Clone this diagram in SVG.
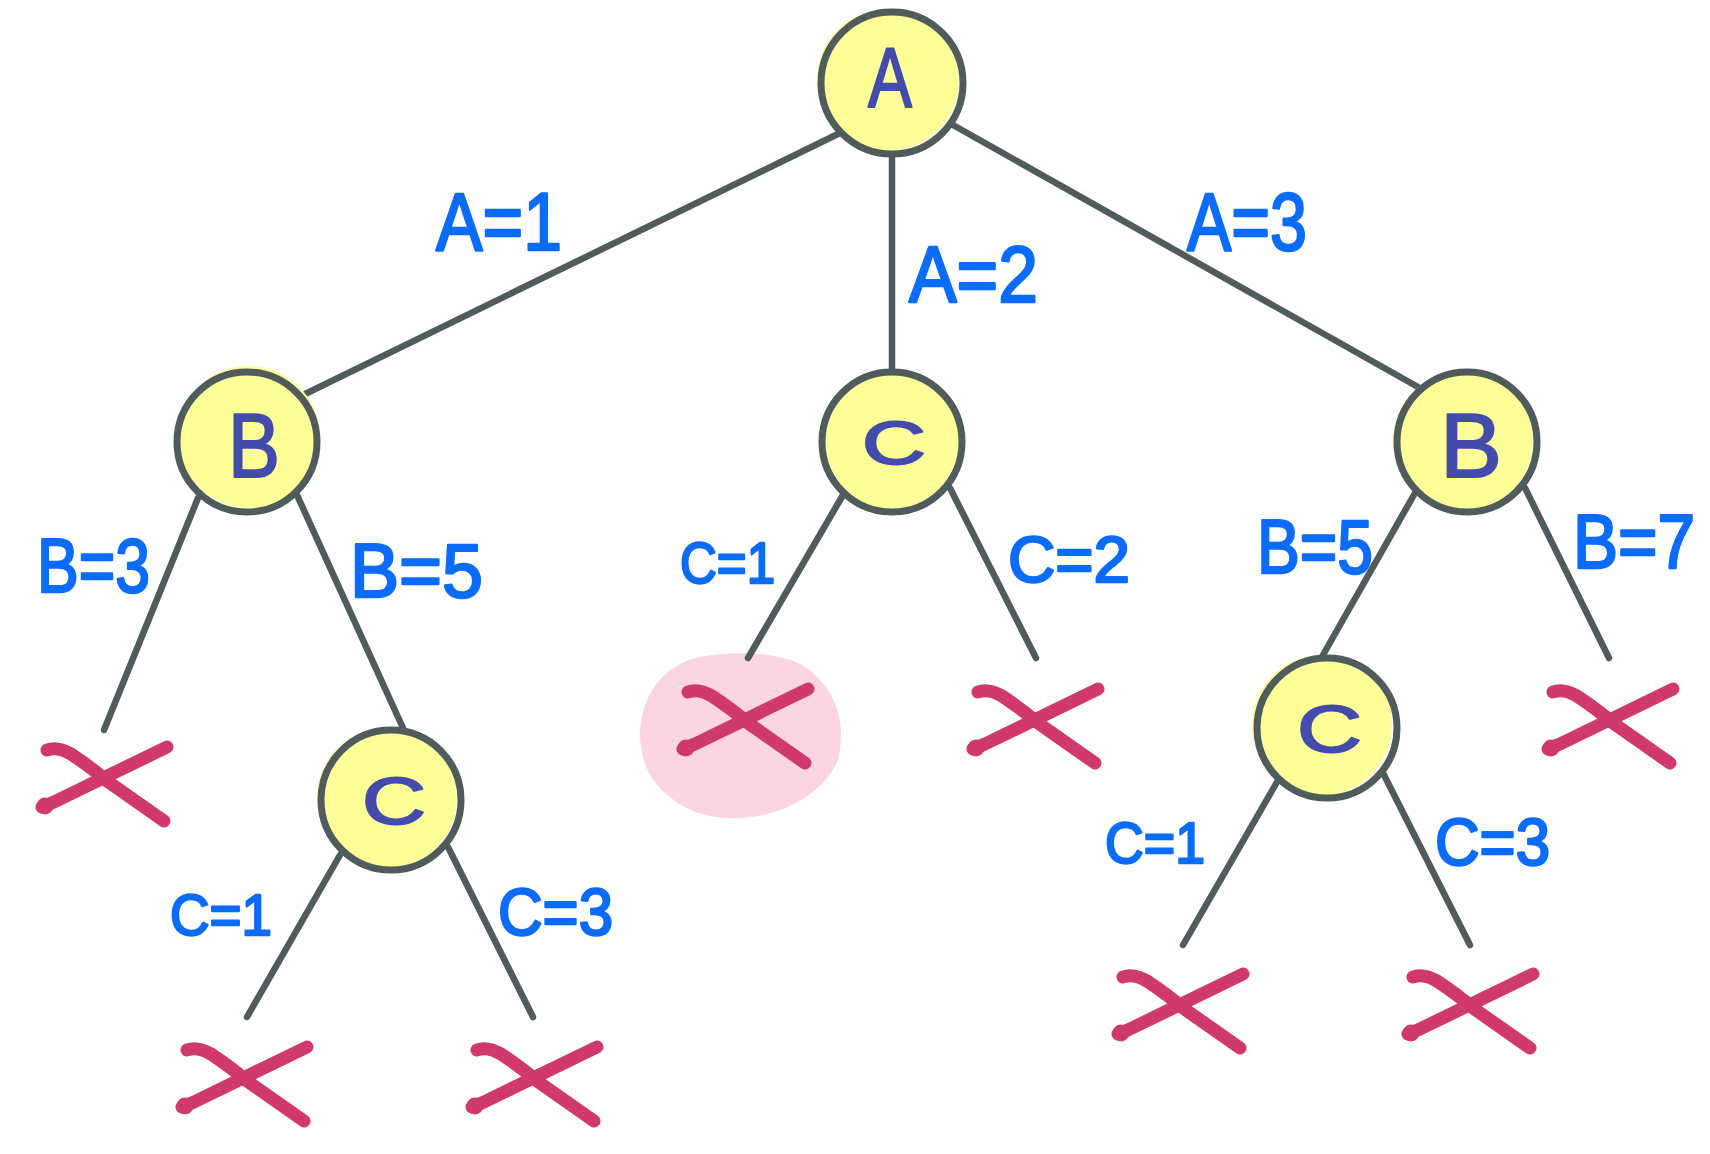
<svg xmlns="http://www.w3.org/2000/svg" xmlns:xlink="http://www.w3.org/1999/xlink" width="1710" height="1154" viewBox="0 0 1710 1154">
<style>
.edge{stroke:#505b5b;stroke-width:6.5;stroke-linecap:round;fill:none}
.hl{fill:#ffff99}
.ring{fill:none;stroke:#505b5b;stroke-width:7}
.nl{font-family:"Liberation Sans",Arial,sans-serif;fill:#434bab;stroke:#434bab;stroke-width:2;stroke-linejoin:round}
.lbl{font-family:"Liberation Sans",Arial,sans-serif;fill:#0b6cfb;stroke:#0b6cfb;stroke-width:2.5;stroke-linejoin:round}
.xs{stroke:#cf396b;stroke-width:13;stroke-linecap:round;stroke-linejoin:round;fill:none}
</style>
<defs>
<g id="cross">
<path class="xs" d="M0,0 Q10,-4 24,4 Q45,18 60,31 L117,71"/>
<path class="xs" d="M-5,57 L7,52 L120,-3"/>
<circle cx="-2" cy="56" r="8.5" fill="#cf396b"/>
</g>
</defs>
<rect width="1710" height="1154" fill="#ffffff"/>
<path id="highlight" d="M700,657 C740,650 790,652 812,672 C838,695 846,725 838,760 C825,790 790,815 740,818 C705,820 680,808 662,790 C648,776 641,760 640,735 C640,700 660,665 700,657 Z" fill="#fbd5e1"/>
<g id="connectors">
<line class="edge" x1="840" y1="133" x2="303" y2="395"/>
<line class="edge" x1="892" y1="156" x2="892" y2="369"/>
<line class="edge" x1="953" y1="125" x2="1418" y2="387"/>
<line class="edge" x1="198" y1="498" x2="104" y2="730"/>
<line class="edge" x1="297" y1="495" x2="403" y2="728"/>
<line class="edge" x1="340" y1="855" x2="247" y2="1017"/>
<line class="edge" x1="448" y1="847" x2="533" y2="1017"/>
<line class="edge" x1="843" y1="495" x2="748" y2="658"/>
<line class="edge" x1="950" y1="488" x2="1036" y2="658"/>
<line class="edge" x1="1415" y1="493" x2="1323" y2="655"/>
<line class="edge" x1="1525" y1="488" x2="1609" y2="658"/>
<line class="edge" x1="1277" y1="782" x2="1183" y2="945"/>
<line class="edge" x1="1383" y1="773" x2="1470" y2="945"/>
</g>
<g id="labels">
<text class="lbl" x="436" y="250" font-size="82" textLength="126" lengthAdjust="spacingAndGlyphs">A=1</text>
<text class="lbl" x="909" y="302" font-size="80" textLength="129" lengthAdjust="spacingAndGlyphs">A=2</text>
<text class="lbl" x="1187" y="250" font-size="82" textLength="120" lengthAdjust="spacingAndGlyphs">A=3</text>
<text class="lbl" x="37" y="592" font-size="76" textLength="113" lengthAdjust="spacingAndGlyphs">B=3</text>
<text class="lbl" x="350" y="597" font-size="76" textLength="133" lengthAdjust="spacingAndGlyphs">B=5</text>
<text class="lbl" x="680" y="583" font-size="58" textLength="95" lengthAdjust="spacingAndGlyphs">C=1</text>
<text class="lbl" x="1008" y="582" font-size="64" textLength="122" lengthAdjust="spacingAndGlyphs">C=2</text>
<text class="lbl" x="1257" y="573" font-size="76" textLength="116" lengthAdjust="spacingAndGlyphs">B=5</text>
<text class="lbl" x="1573" y="568" font-size="76" textLength="122" lengthAdjust="spacingAndGlyphs">B=7</text>
<text class="lbl" x="170" y="935" font-size="58" textLength="102" lengthAdjust="spacingAndGlyphs">C=1</text>
<text class="lbl" x="498" y="935" font-size="66" textLength="115" lengthAdjust="spacingAndGlyphs">C=3</text>
<text class="lbl" x="1105" y="863" font-size="58" textLength="100" lengthAdjust="spacingAndGlyphs">C=1</text>
<text class="lbl" x="1435" y="865" font-size="66" textLength="115" lengthAdjust="spacingAndGlyphs">C=3</text>
</g>
<g id="leaves">
<use xlink:href="#cross" href="#cross" x="47" y="750"/>
<use xlink:href="#cross" href="#cross" x="187" y="1050"/>
<use xlink:href="#cross" href="#cross" x="477" y="1050"/>
<use xlink:href="#cross" href="#cross" x="688" y="692"/>
<use xlink:href="#cross" href="#cross" x="978" y="692"/>
<use xlink:href="#cross" href="#cross" x="1123" y="977"/>
<use xlink:href="#cross" href="#cross" x="1413" y="977"/>
<use xlink:href="#cross" href="#cross" x="1553" y="692"/>
</g>
<g id="node-A">
<circle class="hl" cx="888" cy="80" r="71"/>
<circle class="ring" cx="892" cy="83" r="71"/>
<text class="nl" x="868" y="107" font-size="86" textLength="44" lengthAdjust="spacingAndGlyphs">A</text>
</g>
<g id="node-B1">
<circle class="hl" cx="249" cy="437" r="71"/>
<circle class="ring" cx="247" cy="442" r="70"/>
<text class="nl" x="228" y="477" font-size="90" textLength="52" lengthAdjust="spacingAndGlyphs">B</text>
</g>
<g id="node-C1">
<circle class="hl" cx="889" cy="440" r="70"/>
<circle class="ring" cx="892" cy="442" r="70"/>
<text class="nl" x="862" y="464" font-size="62" textLength="64" lengthAdjust="spacingAndGlyphs">C</text>
</g>
<g id="node-B2">
<circle class="hl" cx="1463" cy="441" r="70"/>
<circle class="ring" cx="1467" cy="442" r="70"/>
<text class="nl" x="1440" y="477" font-size="90" textLength="62" lengthAdjust="spacingAndGlyphs">B</text>
</g>
<g id="node-C2">
<circle class="hl" cx="387" cy="798" r="70"/>
<circle class="ring" cx="391" cy="800" r="70"/>
<text class="nl" x="362" y="824" font-size="66" textLength="64" lengthAdjust="spacingAndGlyphs">C</text>
</g>
<g id="node-C3">
<circle class="hl" cx="1322" cy="725" r="70"/>
<circle class="ring" cx="1327" cy="728" r="70"/>
<text class="nl" x="1297" y="752" font-size="66" textLength="65" lengthAdjust="spacingAndGlyphs">C</text>
</g>
</svg>
